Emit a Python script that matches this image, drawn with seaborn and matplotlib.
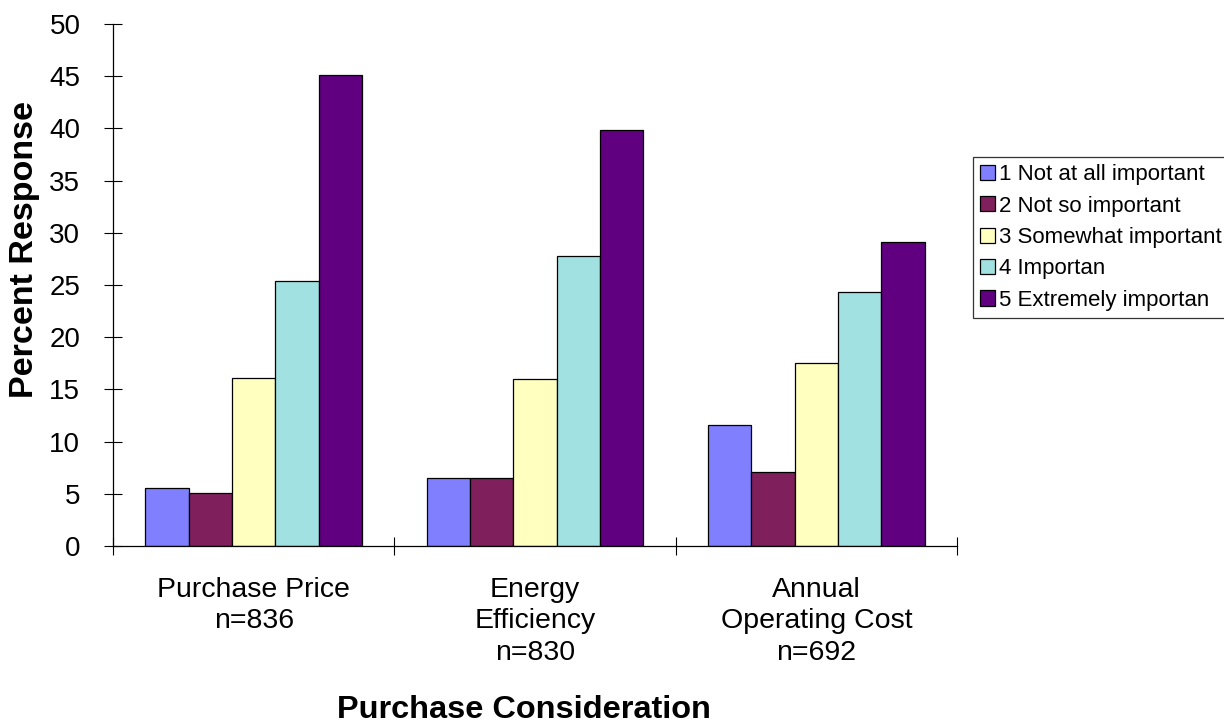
import numpy as np
import pandas as pd
import matplotlib
matplotlib.use("Agg")
import matplotlib.pyplot as plt
import seaborn as sns

# Survey results: share of respondents rating each purchase consideration
considerations = [
    "Purchase Price\nn=836",
    "Energy\nEfficiency\nn=830",
    "Annual\nOperating Cost\nn=692",
]
ratings = [
    "1 Not at all important",
    "2 Not so important",
    "3 Somewhat important",
    "4 Importan",
    "5 Extremely importan",
]
not_at_all = [5.6, 6.5, 11.6]
not_so = [5.1, 6.5, 7.1]
somewhat = [16.1, 16.0, 17.5]
important = [25.4, 27.8, 24.3]
extremely = [45.1, 39.8, 29.1]
y_ticks = [0, 5, 10, 15, 20, 25, 30, 35, 40, 45, 50]

palette = ["#8080FF", "#7F1F5C", "#FFFFC0", "#A2E1E1", "#600080"]

series = [not_at_all, not_so, somewhat, important, extremely]
df = pd.DataFrame(
    [
        {"Consideration": c, "Rating": r, "Percent": vals[i]}
        for r, vals in zip(ratings, series)
        for i, c in enumerate(considerations)
    ]
)

sns.set_style("white")
plt.rcParams["font.family"] = ["Liberation Sans", "DejaVu Sans"]
for key in ["text.color", "axes.labelcolor", "xtick.color", "ytick.color"]:
    plt.rcParams[key] = "black"

fig = plt.figure(figsize=(12.24, 7.23), dpi=100)
ax = fig.add_axes([113 / 1224, 1 - 546 / 723, (957 - 113) / 1224, (546 - 24) / 723])

sns.barplot(
    data=df,
    x="Consideration",
    y="Percent",
    hue="Rating",
    order=considerations,
    hue_order=ratings,
    palette=palette,
    saturation=1,
    width=0.77,
    edgecolor="black",
    linewidth=0.9,
    ax=ax,
)

ax.set_xlim(-0.5, 2.5)
ax.set_ylim(0, 50)
ax.set_yticks(y_ticks)
ax.set_yticklabels([str(v) for v in y_ticks], fontsize=20)

# Category labels sit between the separator ticks
ax.set_xticks(range(len(considerations)))
ax.set_xticklabels(considerations, fontsize=20.5, linespacing=1.28)
ax.tick_params(axis="x", which="major", length=0, pad=22, bottom=False)
ax.set_xticks([-0.5, 0.5, 1.5, 2.5], minor=True)
ax.tick_params(axis="x", which="minor", direction="inout", length=13,
               width=0.8, color="black", bottom=True)
ax.tick_params(axis="y", which="major", direction="inout", length=13,
               width=0.8, color="black", pad=17, left=True)

for side in ["top", "right"]:
    ax.spines[side].set_visible(False)
for side in ["left", "bottom"]:
    ax.spines[side].set_color("black")
    ax.spines[side].set_linewidth(0.9)

ax.set_xlabel("Purchase Consideration", fontsize=23.4, fontweight="bold")
ax.xaxis.set_label_coords((524 - 113) / 844, -(695 - 546) / 522)
ax.xaxis.label.set_va("top")
ax.set_ylabel("Percent Response", fontsize=24.5, fontweight="bold")
ax.yaxis.set_label_coords(-(113 - 25) / 844, (546 - 249) / 522)
ax.yaxis.label.set_va("center")

leg = ax.legend(
    loc="center left",
    bbox_to_anchor=(973 / 1224, 1 - 237.5 / 723),
    bbox_transform=fig.transFigure,
    fontsize=16,
    frameon=True,
    fancybox=False,
    edgecolor="black",
    handlelength=0.68,
    handleheight=0.68,
    handletextpad=0.2,
    labelspacing=0.47,
    borderpad=0.3,
    borderaxespad=0,
)
leg.get_frame().set_linewidth(0.9)
for h in leg.legend_handles:
    h.set_edgecolor("black")
    h.set_linewidth(0.9)

fig.savefig("out.png", dpi=100, facecolor="white")
